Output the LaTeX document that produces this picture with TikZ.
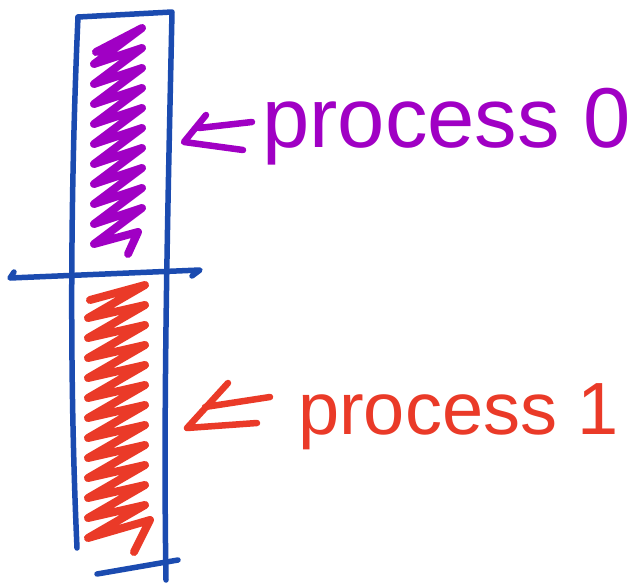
\documentclass[tikz,border=0pt]{standalone}
\usepackage{fontspec}
\setmainfont{Liberation Sans}
\definecolor{inkblue}{HTML}{1B4BB0}
\definecolor{inkpurple}{HTML}{A000C4}
\definecolor{inkred}{HTML}{EA3A28}
\begin{document}
\begin{tikzpicture}[x=1pt,y=-1pt,line cap=round,line join=round,
  frame/.style={draw=inkblue,line width=5.5pt},
  scribble/.style={line width=8pt},
  tag/.style={inner sep=0pt,anchor=base west}]
  \useasboundingbox (0,0) rectangle (637,586);
  % outline of the array
  \draw[frame] (78,17) -- (172,12) .. controls (168,200) and (163,400) .. (166,580);
  \draw[frame] (78,17) .. controls (72,150) and (68,350) .. (77,548);
  \draw[frame] (97,574) -- (178,560);
  \draw[frame] (14,272) -- (10,278) -- (200,270) -- (192,276);
  % hatched parts
  \draw[scribble,inkpurple] (96,52) \foreach \i in {0,...,9} {-- (142,28+20*\i) -- (94,64+20*\i)} -- (138,232) -- (128,254);
  \draw[scribble,inkred] (90,300) \foreach \i in {0,...,11} {-- (145,285+20*\i) -- (88,318+20*\i)} -- (150,520) -- (134,552);
  % labels
  \coordinate (tip0) at (184,142);
  \draw[scribble,inkpurple,line width=6.5pt] (206,115) -- (tip0) -- (243,150) (199,128) -- (252,122);
  \node[tag,text=inkpurple,font=\fontsize{85}{90}\selectfont] (lab0) at (262,147) {process 0};
  \coordinate (tip1) at (187,428);
  \draw[scribble,inkred,line width=6.5pt] (228,383) -- (tip1) -- (257,423) (205,407) -- (270,397);
  \node[tag,text=inkred,font=\fontsize{74}{80}\selectfont] (lab1) at (298,434) {process 1};
\end{tikzpicture}
\end{document}
